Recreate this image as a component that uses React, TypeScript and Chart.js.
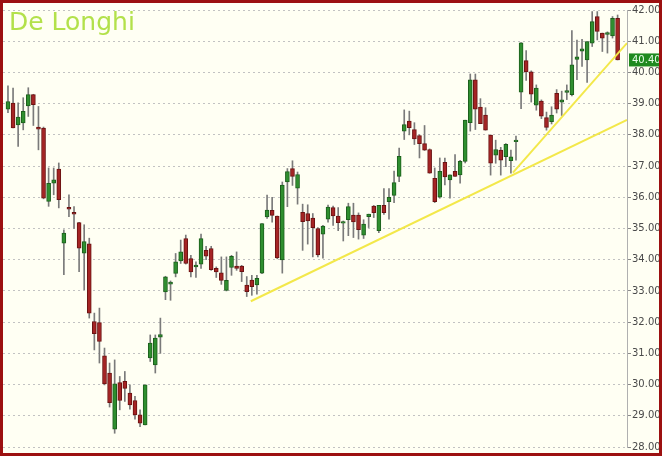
import React, { useEffect, useRef } from "react";
import { Chart, registerables } from "chart.js";

Chart.register(...registerables);

const title = "De Longhi";

const opens = [
  38.82, 39.02, 38.32, 38.38, 38.93, 39.29, 38.25, 38.22, 35.87, 36.45,
  36.9, 34.53, 35.68, 35.52, 35.19, 34.21, 34.51, 32.02, 31.99, 30.92,
  30.37, 28.57, 30.06, 30.1, 29.73, 29.49, 29.03, 28.71, 30.85, 30.63,
  31.52, 32.97, 33.22, 33.56, 33.96, 34.68, 34.04, 33.77, 33.86, 34.3,
  34.36, 33.72, 33.58, 33.02, 33.75, 33.8, 33.8, 33.19, 33.35, 33.19,
  33.57, 35.37, 35.58, 35.4, 33.99, 36.49, 36.92, 36.29, 35.52, 35.48,
  35.33, 35.0, 34.82, 35.3, 35.67, 35.4, 35.17, 35.28, 35.43, 35.43,
  34.79, 35.38, 35.72, 34.93, 35.74, 35.86, 36.06, 36.67, 38.12, 38.44,
  38.17, 37.98, 37.72, 37.53, 36.61, 36.0, 37.12, 36.56, 36.83, 36.72,
  37.15, 38.39, 39.76, 38.89, 38.63, 37.99, 37.35, 37.51, 37.3, 37.17,
  37.78, 39.37, 40.38, 40.02, 38.95, 39.08, 38.55, 38.42, 39.33, 39.05,
  39.36, 39.29, 40.42, 40.68, 40.4, 40.94, 41.79, 41.26, 41.22, 41.17,
  41.73,
];
const highs = [
  39.57, 39.5, 39.03, 39.19, 39.51, 39.3, 38.91, 38.25, 36.94, 36.94,
  37.1, 34.96, 36.08, 35.7, 35.2, 35.12, 34.69, 32.29, 32.45, 31.17,
  30.69, 30.79, 30.26, 30.42, 29.99, 29.62, 29.19, 29.99, 31.59, 31.59,
  32.13, 33.47, 33.32, 34.2, 34.63, 34.79, 34.14, 33.93, 34.82, 34.43,
  34.43, 33.77, 34.09, 34.09, 34.14, 34.25, 33.82, 33.46, 33.5, 33.5,
  35.16, 36.07, 36.0, 35.4, 36.49, 36.92, 37.17, 36.81, 35.78, 35.76,
  35.48, 35.03, 35.1, 35.75, 35.72, 35.67, 35.24, 35.81, 35.81, 35.5,
  35.28, 35.46, 35.74, 35.74, 36.28, 36.28, 36.84, 37.58, 38.8, 38.76,
  38.39, 38.0, 38.3, 37.55, 36.94, 37.26, 37.26, 36.72, 37.37, 37.18,
  38.47, 39.95, 39.95, 39.16, 38.87, 38.0, 37.83, 37.6, 37.72, 37.51,
  37.96, 40.96, 40.7, 40.05, 39.6, 39.12, 38.73, 38.9, 39.45, 39.4,
  39.6, 41.34, 41.04, 41.06, 40.99, 41.95, 41.95, 41.26, 41.3, 41.79,
  41.84,
];
const lows = [
  38.71, 38.22, 37.63, 38.16, 38.59, 38.3, 37.52, 35.95, 35.71, 36.08,
  35.66, 33.52, 35.38, 35.0, 33.62, 33.04, 32.13, 31.11, 30.69, 29.99,
  29.28, 28.44, 29.19, 29.46, 29.21, 28.89, 28.65, 28.71, 30.74, 30.37,
  31.0, 32.72, 32.7, 33.45, 33.88, 33.86, 33.45, 33.43, 33.72, 34.0,
  33.66, 33.43, 33.21, 33.0, 33.5, 33.66, 33.3, 32.82, 32.86, 32.9,
  33.55, 35.32, 35.2, 34.03, 33.57, 35.7, 36.38, 35.78, 34.3, 34.5,
  34.09, 34.09, 34.05, 35.2, 35.1, 34.93, 34.6, 34.77, 34.71, 34.66,
  34.68, 35.03, 35.35, 34.87, 35.45, 35.3, 35.83, 36.5, 37.85, 38.0,
  37.69, 37.26, 37.5, 36.77, 35.83, 35.97, 36.4, 35.97, 36.67, 36.45,
  37.1, 38.12, 38.17, 38.36, 38.15, 36.71, 37.09, 36.71, 36.98, 36.77,
  37.19, 38.84, 39.74, 39.05, 38.79, 38.52, 38.15, 38.35, 38.7, 38.62,
  39.13, 39.25, 39.77, 40.19, 39.68, 40.83, 41.04, 40.67, 40.62, 41.1,
  40.4,
];
const closes = [
  39.07, 38.22, 38.57, 38.75, 39.29, 38.97, 38.18, 35.97, 36.45, 36.56,
  35.92, 34.85, 35.62, 35.46, 34.37, 34.58, 32.29, 31.63, 31.38, 30.02,
  29.42, 30.02, 29.49, 29.88, 29.35, 29.03, 28.76, 29.99, 31.33, 31.49,
  31.6, 33.45, 33.28, 33.93, 34.25, 33.88, 33.61, 33.83, 34.68, 34.11,
  33.68, 33.61, 33.34, 33.34, 34.11, 33.72, 33.62, 32.98, 33.14, 33.4,
  35.16, 35.59, 35.42, 34.06, 36.39, 36.82, 36.67, 36.73, 35.22, 35.24,
  35.03, 34.15, 35.08, 35.69, 35.4, 35.19, 35.22, 35.7, 35.21, 34.96,
  35.14, 35.46, 35.51, 35.74, 35.51, 36.0, 36.47, 37.31, 38.33, 38.23,
  37.87, 37.72, 37.51, 36.77, 35.86, 36.83, 36.65, 36.72, 36.67, 37.15,
  38.47, 39.76, 38.82, 38.36, 38.15, 37.09, 37.53, 37.19, 37.7, 37.3,
  37.83, 40.95, 40.02, 39.3, 39.5, 38.6, 38.24, 38.63, 38.82, 39.12,
  39.42, 40.24, 40.5, 40.76, 40.99, 41.63, 41.31, 41.1, 41.28, 41.73,
  40.4,
];

const lastPrice = 40.4;

const yMin = 28;
const yMax = 42;
const yStep = 1;

const xMin = -0.98;
const xMax = 121.85;

const trendAX = [47.8, 121.85];
const trendAY = [32.67, 38.48];
const trendBX = [99.4, 121.85];
const trendBY = [36.79, 40.94];

const UP_FILL = "#2f8f2f";
const UP_EDGE = "#1c5e1c";
const DOWN_FILL = "#a52424";
const DOWN_EDGE = "#6a1212";
const WICK = "#7a7a7a";
const TREND = "#f3e84a";

export default function App() {
  const ref = useRef<HTMLCanvasElement | null>(null);

  useEffect(() => {
    const canvas = ref.current;
    if (!canvas) return;

    const wickData = highs.map((h, i) => ({ x: i, y: [lows[i], h] }));
    const bodyData = opens.map((o, i) => ({ x: i, y: [o, closes[i]] }));
    const isUp = opens.map((o, i) => closes[i] >= o);

    const priceTag = {
      id: "priceTag",
      afterDraw(chart: any) {
        const { ctx, chartArea } = chart;
        const y = chart.scales.y;
        const py = y.getPixelForValue(lastPrice);
        ctx.save();
        ctx.fillStyle = "#1f8a1f";
        ctx.fillRect(chartArea.right + 2, py - 6.5, chart.width - chartArea.right - 2, 13);
        ctx.fillStyle = "#e9ffe9";
        ctx.font = "10px 'DejaVu Sans'";
        ctx.textBaseline = "middle";
        ctx.textAlign = "left";
        ctx.fillText(lastPrice.toFixed(2), chartArea.right + 5, py + 0.5);
        ctx.restore();
      },
    };

    const chart = new Chart(canvas, {
      type: "bar",
      data: {
        datasets: [
          {
            type: "line",
            data: trendAX.map((x, i) => ({ x, y: trendAY[i] })),
            borderColor: TREND,
            borderWidth: 2,
            pointRadius: 0,
            order: 0,
          } as any,
          {
            type: "line",
            data: trendBX.map((x, i) => ({ x, y: trendBY[i] })),
            borderColor: TREND,
            borderWidth: 2,
            pointRadius: 0,
            order: 0,
          } as any,
          {
            type: "bar",
            data: bodyData as any,
            backgroundColor: isUp.map((u) => (u ? UP_FILL : DOWN_FILL)),
            borderColor: isUp.map((u) => (u ? UP_EDGE : DOWN_EDGE)),
            borderWidth: 1,
            borderSkipped: false,
            barThickness: 4,
            grouped: false,
            order: 1,
          } as any,
          {
            type: "bar",
            data: wickData as any,
            backgroundColor: WICK,
            borderWidth: 0,
            barThickness: 1,
            grouped: false,
            order: 2,
          } as any,
        ],
      },
      options: {
        animation: false,
        responsive: false,
        maintainAspectRatio: false,
        layout: { padding: { top: 7, bottom: 5.3, left: 0, right: 0 } },
        plugins: {
          legend: { display: false },
          tooltip: { enabled: false },
          title: { display: false },
        },
        scales: {
          x: {
            type: "linear",
            min: xMin,
            max: xMax,
            display: false,
            offset: false,
          },
          y: {
            position: "right",
            min: yMin,
            max: yMax,
            ticks: {
              stepSize: yStep,
              callback: (v: any) => Number(v).toFixed(2),
              color: "#4a4a4a",
              font: { family: "'DejaVu Sans'", size: 10, lineHeight: 1 },
              padding: 1,
            },
            grid: {
              color: "#c2c2c2",
              tickColor: "#8a8a8a",
              tickLength: 4,
              tickBorderDash: [],
              drawTicks: true,
            },
            border: { display: true, color: "#b0b0b0", dash: [2, 3] },
            afterFit: (s: any) => {
              s.width = 32;
            },
          } as any,
        },
      },
      plugins: [priceTag],
    });

    return () => chart.destroy();
  }, []);

  return (
    <div
      style={{
        position: "fixed",
        left: 0,
        top: 0,
        width: 662,
        height: 456,
        boxSizing: "border-box",
        border: "3px solid #9c1010",
        background: "#fffff3",
      }}
    >
      <canvas ref={ref} width={656} height={450} style={{ display: "block" }} />
      <div
        style={{
          position: "absolute",
          left: 6,
          top: 6,
          fontFamily: "'DejaVu Sans', sans-serif",
          fontSize: 25,
          lineHeight: "25px",
          color: "#b3e14a",
          whiteSpace: "nowrap",
        }}
      >
        {title}
      </div>
    </div>
  );
}
